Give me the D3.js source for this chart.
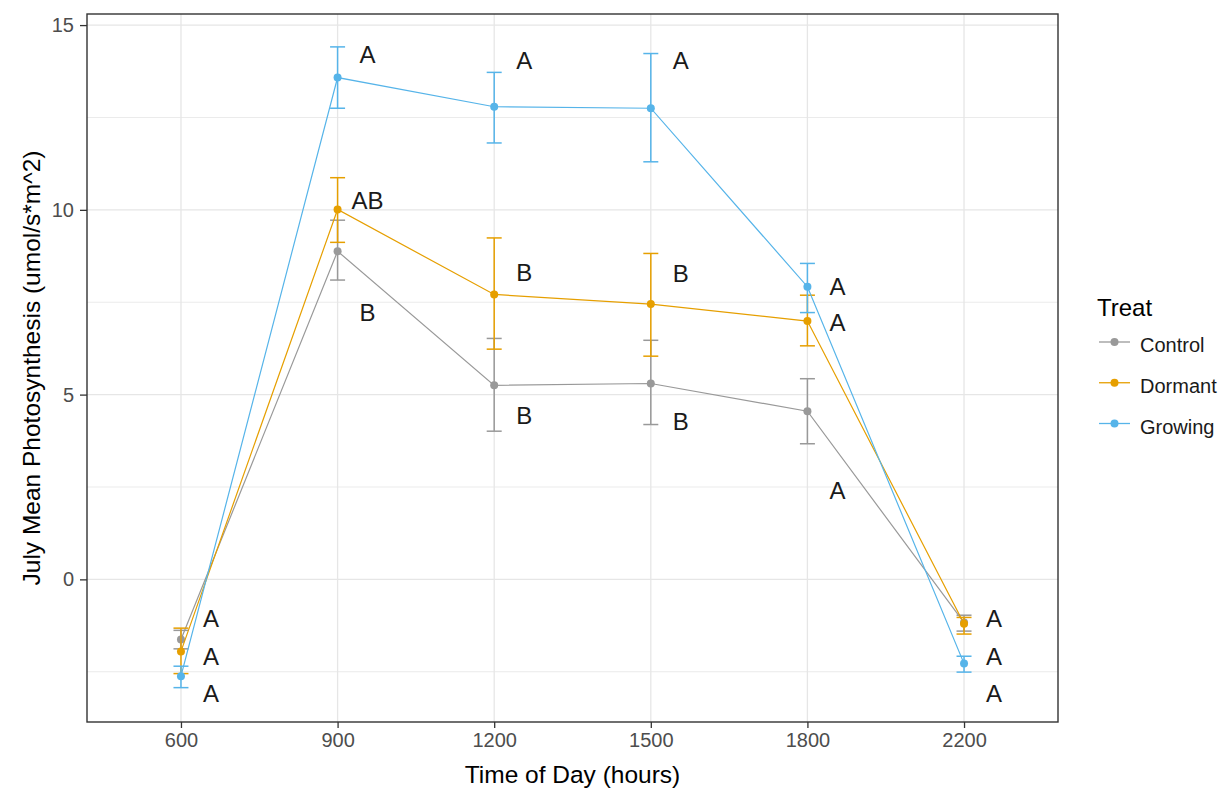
<!DOCTYPE html>
<html>
<head>
<meta charset="utf-8">
<script src="https://cdn.jsdelivr.net/npm/d3@7"></script>
<style>
  body { margin: 0; background: #fff; }
  svg text { font-family: "Liberation Sans", Arial, sans-serif; }
</style>
</head>
<body>
<div id="chart"></div>
<script>
// ===========Data
var times = ["600", "900", "1200", "1500", "1800", "2200"];
var treats = ["Control", "Dormant", "Growing"];
var colors = ["#999999", "#E69F00", "#56B4E9"];

var controlMean  = [-1.63, 8.88, 5.25, 5.30, 4.55, -1.17];
var controlUpper = [-1.38, 9.72, 6.52, 6.47, 5.43, -0.97];
var controlLower = [-1.88, 8.10, 4.01, 4.19, 3.67, -1.40];

var dormantMean  = [-1.95, 10.01, 7.71, 7.45, 6.99, -1.20];
var dormantUpper = [-1.32, 10.87, 9.24, 8.82, 7.69, -1.03];
var dormantLower = [-2.55, 9.12, 6.23, 6.04, 6.32, -1.48];

var growingMean  = [-2.62, 13.58, 12.79, 12.75, 7.92, -2.28];
var growingUpper = [-2.35, 14.41, 13.72, 14.23, 8.55, -2.08];
var growingLower = [-2.93, 12.75, 11.81, 11.30, 7.22, -2.51];

// letters and where they sit (y value)
var controlLetters = ["A", "B", "B", "B", "A", "A"];
var controlLetterY = [-1.06, 7.23, 4.44, 4.26, 2.41, -1.06];
var dormantLetters = ["A", "AB", "B", "B", "A", "A"];
var dormantLetterY = [-2.08, 10.24, 8.31, 8.28, 6.94, -2.10];
var growingLetters = ["A", "A", "A", "A", "A", "A"];
var growingLetterY = [-3.09, 14.20, 14.05, 14.05, 7.92, -3.09];

var yTicks = [0, 5, 10, 15];
var yMinor = [-2.5, 2.5, 7.5, 12.5];

var series = [
  { name: treats[0], color: colors[0], mean: controlMean, upper: controlUpper, lower: controlLower, letters: controlLetters, letterY: controlLetterY },
  { name: treats[1], color: colors[1], mean: dormantMean, upper: dormantUpper, lower: dormantLower, letters: dormantLetters, letterY: dormantLetterY },
  { name: treats[2], color: colors[2], mean: growingMean, upper: growingUpper, lower: growingLower, letters: growingLetters, letterY: growingLetterY }
];

// ===========Size and margins
var svgWidth = 1228, svgHeight = 791;
var margin = { top: 14, right: 170, bottom: 69, left: 87 };
var width = svgWidth - margin.left - margin.right;
var height = svgHeight - margin.top - margin.bottom;

var svg = d3.select("#chart").append("svg")
  .attr("width", svgWidth)
  .attr("height", svgHeight);

var chartGroup = svg.append("g")
  .attr("transform", `translate(${margin.left}, ${margin.top})`);

// ===========Scales
var xScale = d3.scalePoint()
  .domain(times)
  .range([0, width])
  .padding(0.6);

var yScale = d3.scaleLinear()
  .domain([-3.86, 15.30])
  .range([height, 0]);

// ===========Grid lines
chartGroup.append("g").selectAll("line")
  .data(yMinor)
  .enter().append("line")
  .attr("x1", 0).attr("x2", width)
  .attr("y1", d => yScale(d)).attr("y2", d => yScale(d))
  .attr("stroke", "#ebebeb").attr("stroke-width", 1);

chartGroup.append("g").selectAll("line")
  .data(yTicks)
  .enter().append("line")
  .attr("x1", 0).attr("x2", width)
  .attr("y1", d => yScale(d)).attr("y2", d => yScale(d))
  .attr("stroke", "#e6e6e6").attr("stroke-width", 1.3);

chartGroup.append("g").selectAll("line")
  .data(times)
  .enter().append("line")
  .attr("x1", d => xScale(d)).attr("x2", d => xScale(d))
  .attr("y1", 0).attr("y2", height)
  .attr("stroke", "#e6e6e6").attr("stroke-width", 1.3);

// ===========Series: lines, error bars, points
var line = d3.line()
  .x((d, i) => xScale(times[i]))
  .y(d => yScale(d));

series.forEach(function(s) {
  var g = chartGroup.append("g");

  g.append("path")
    .attr("d", line(s.mean))
    .attr("fill", "none")
    .attr("stroke", s.color)
    .attr("stroke-width", 1.2);

  var bars = g.selectAll("g.err")
    .data(times)
    .enter().append("g");

  bars.append("line")
    .attr("x1", d => xScale(d)).attr("x2", d => xScale(d))
    .attr("y1", (d, i) => yScale(s.upper[i]))
    .attr("y2", (d, i) => yScale(s.lower[i]))
    .attr("stroke", s.color).attr("stroke-width", 1.5);

  bars.append("line")
    .attr("x1", d => xScale(d) - 7.5).attr("x2", d => xScale(d) + 7.5)
    .attr("y1", (d, i) => yScale(s.upper[i]))
    .attr("y2", (d, i) => yScale(s.upper[i]))
    .attr("stroke", s.color).attr("stroke-width", 1.5);

  bars.append("line")
    .attr("x1", d => xScale(d) - 7.5).attr("x2", d => xScale(d) + 7.5)
    .attr("y1", (d, i) => yScale(s.lower[i]))
    .attr("y2", (d, i) => yScale(s.lower[i]))
    .attr("stroke", s.color).attr("stroke-width", 1.5);

  g.selectAll("circle")
    .data(s.mean)
    .enter().append("circle")
    .attr("cx", (d, i) => xScale(times[i]))
    .attr("cy", d => yScale(d))
    .attr("r", 4)
    .attr("fill", s.color);
});

// ===========Letters
series.forEach(function(s) {
  chartGroup.append("g").selectAll("text")
    .data(s.letters)
    .enter().append("text")
    .attr("x", (d, i) => xScale(times[i]) + 30)
    .attr("y", (d, i) => yScale(s.letterY[i]))
    .attr("dy", "0.35em")
    .attr("text-anchor", "middle")
    .attr("font-size", "24px")
    .attr("fill", "#1a1a1a")
    .text(d => d);
});

// ===========Panel border
chartGroup.append("rect")
  .attr("x", 0).attr("y", 0)
  .attr("width", width).attr("height", height)
  .attr("fill", "none")
  .attr("stroke", "#333333")
  .attr("stroke-width", 1.4);

// ===========Axes
var bottomAxis = d3.axisBottom(xScale).tickSize(6).tickPadding(5);
var leftAxis = d3.axisLeft(yScale).tickValues(yTicks).tickSize(7).tickPadding(6);

var xAxis = chartGroup.append("g")
  .attr("transform", `translate(0, ${height})`)
  .call(bottomAxis);

var yAxis = chartGroup.append("g")
  .call(leftAxis);

[xAxis, yAxis].forEach(function(ax) {
  ax.select(".domain").remove();
  ax.selectAll(".tick line").attr("stroke", "#333333").attr("stroke-width", 1.3);
  ax.selectAll(".tick text")
    .attr("fill", "#4d4d4d")
    .attr("font-size", "20px")
    .attr("font-family", "Liberation Sans, Arial, sans-serif");
});

// ===========Axis titles
svg.append("text")
  .attr("x", margin.left + width / 2)
  .attr("y", 783)
  .attr("text-anchor", "middle")
  .attr("font-size", "24.5px")
  .attr("fill", "#000")
  .text("Time of Day (hours)");

svg.append("text")
  .attr("transform", `translate(40, ${margin.top + height / 2}) rotate(-90)`)
  .attr("text-anchor", "middle")
  .attr("font-size", "24.5px")
  .attr("fill", "#000")
  .text("July Mean Photosynthesis (umol/s*m^2)");

// ===========Legend
var legend = svg.append("g")
  .attr("transform", "translate(1097, 0)");

legend.append("text")
  .attr("x", 0)
  .attr("y", 308)
  .attr("dy", "0.35em")
  .attr("font-size", "24px")
  .attr("fill", "#000")
  .text("Treat");

var keyY = d3.scalePoint().domain(treats).range([342, 423.5]);

var keys = legend.selectAll("g.key")
  .data(series)
  .enter().append("g")
  .attr("transform", d => `translate(0, ${keyY(d.name)})`);

keys.append("line")
  .attr("x1", 2).attr("x2", 33)
  .attr("stroke", d => d.color).attr("stroke-width", 1.3);

keys.append("circle")
  .attr("cx", 17.5).attr("r", 4)
  .attr("fill", d => d.color);

keys.append("text")
  .attr("x", 43)
  .attr("y", 3)
  .attr("dy", "0.35em")
  .attr("font-size", "20px")
  .attr("fill", "#1a1a1a")
  .text(d => d.name);
</script>
</body>
</html>
